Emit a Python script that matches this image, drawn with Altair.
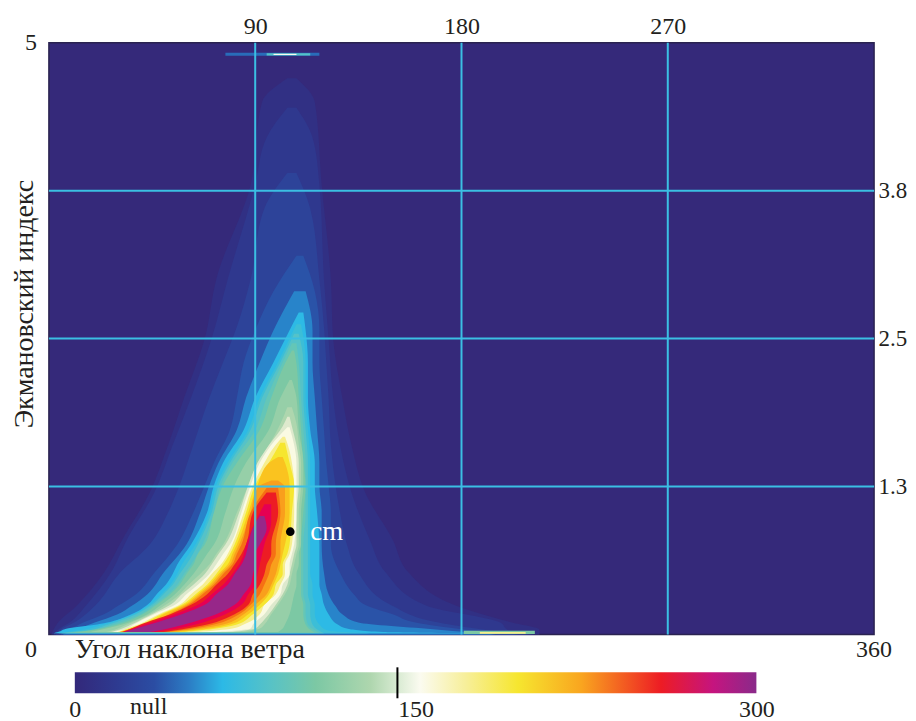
import altair as alt
import pandas as pd

W, H = 827, 593
FONT = "Liberation Serif"
INK = "#231f20"
BG = "#35297a"
GRID = "#3bbfe3"

# colour ramp
ramp_values = [0, 18, 35, 50, 65, 85, 106, 130, 152, 172, 195, 223, 258, 281, 300]
ramp_colors = ["#33287a", "#2e3a90", "#2b4da3", "#2c7cc4", "#2cb9e6", "#55c2c8", "#7cc8a4",
               "#aed6ae", "#fbfbf0", "#f7ef9a", "#f6e62f", "#f9a51f", "#ed1c24", "#c5147f", "#8a2a8a"]

# density bands: (value, index rows, left angle, right angle)
bands = [
    (8, [0, .04, .1, .24, .52, .8, 1.2, 1.6, 2.0, 2.5, 3.0, 3.8, 4.5, 4.7],
        [1, 2, 4, 12, 24, 32, 44, 52, 59, 68, 73, 88, 93, 104],
        [214, 214, 202, 178, 157, 150, 138, 132, 128, 124, 123, 119, 116, 108]),
    (16, [0, .04, .1, .24, .52, .8, 1.2, 1.6, 2.0, 2.5, 3.0, 3.8, 4.2, 4.45],
         [2, 4, 9, 16, 27, 34, 46, 54, 62, 71, 78, 90, 95, 104],
         [212, 200, 197, 165, 147, 140, 132, 127, 124, 122, 120, 118, 115, 108]),
    (26, [0, .04, .1, .24, .52, .76, 1.03, 1.26, 1.6, 2.0, 2.3, 2.6, 3.0, 3.6, 3.9],
         [3, 5, 11, 20, 31, 44, 52, 57, 63, 70, 76, 82, 88, 94, 104],
         [210, 190, 170, 150, 135, 130, 127, 125, 123, 122, 121, 120, 118, 114, 108]),
    (37, [0, .04, .1, .17, .24, .34, .52, .76, 1.03, 1.26, 1.45, 1.73, 2.0, 2.3, 2.57, 2.9, 3.2],
         [5, 9, 15, 24, 30, 38, 46, 56, 63, 68, 72, 79, 82, 85, 90, 98, 108],
         [205, 182, 160, 150, 139, 133, 127, 123, 123, 122, 121, 120, 119, 118, 118, 116, 111]),
    (52, [0, .04, .1, .17, .24, .34, .52, .76, 1.03, 1.26, 1.45, 1.73, 2.0, 2.3, 2.57, 2.9],
         [6, 12, 20, 30, 36, 43, 50, 60, 66, 70, 74, 82, 86, 92, 98, 107],
         [195, 170, 135, 128, 125, 122, 120, 119, 119, 118, 118, 117, 116, 115, 115, 112]),
    (66, [.01, .02, .05, .084, .17, .25, .34, .42, .51, .59, .76, 1.03, 1.26, 1.45, 1.73, 2.0, 2.3, 2.57, 2.72],
         [2, 4, 8, 21, 36, 43, 47, 51, 54, 56, 62, 69, 72, 76, 85, 90, 98, 105, 109],
         [182, 146, 130, 126, 122, 120, 119, 118, 118, 118, 118, 117, 116, 116, 114, 113, 113, 112, 111]),
    (75, [.01, .03, .084, .17, .25, .34, .42, .51, .59, .76, 1.03, 1.26, 1.45, 1.73, 2.0, 2.3, 2.62],
         [4, 12, 24, 37, 44, 49, 53, 56, 58, 64, 70, 73, 78, 87, 92, 100, 108],
         [140, 122, 118, 116, 116, 115, 115, 114, 114, 114, 114, 114, 114, 113, 112, 112, 110]),
    (85, [.01, .03, .084, .17, .25, .34, .42, .51, .59, .76, 1.03, 1.26, 1.45, 1.73, 2.0, 2.3, 2.54],
         [5, 15, 26, 38, 45, 50, 54, 57, 60, 65, 71, 74, 79, 88, 93, 101, 107],
         [120, 118, 115, 114, 114, 113, 113, 113, 113, 113, 113, 113, 113, 112, 111, 111, 109]),
    (95, [.012, .035, .084, .17, .25, .34, .42, .51, .59, .76, 1.03, 1.26, 1.45, 1.73, 2.0, 2.3, 2.46],
         [8, 18, 28, 40, 46, 52, 56, 59, 62, 67, 72, 75, 80, 90, 95, 102, 106],
         [118, 116, 113, 112, 112, 111, 111, 111, 111, 111, 112, 112, 112, 111, 110, 109, 108]),
    (106, [.015, .04, .084, .17, .25, .34, .42, .51, .59, .68, .76, 1.03, 1.26, 1.45, 1.73, 2.0, 2.29, 2.4],
          [11, 20, 30, 41, 47, 53, 57, 60, 63, 65, 68, 72, 76, 82, 92, 97, 103, 106],
          [116, 114, 112, 111, 111, 110, 110, 110, 110, 110, 110, 111, 112, 111, 110, 109, 108, 107]),
    (118, [.02, .05, .084, .17, .25, .34, .42, .51, .59, .68, .76, 1.03, 1.26, 1.45, 1.73, 2.0, 2.15],
          [18, 25, 32, 43, 49, 55, 59, 63, 66, 69, 72, 77, 81, 86, 96, 101, 105],
          [100, 102, 103, 105, 106, 107, 108, 108, 109, 109, 110, 110, 111, 111, 109, 108, 106]),
    (130, [.02, .05, .084, .17, .25, .34, .42, .51, .59, .68, .76, 1.03, 1.26, 1.45, 1.6, 1.78, 1.92],
          [25, 30, 34, 44, 51, 57, 61, 66, 70, 73, 76, 82, 87, 91, 96, 101, 104],
          [85, 92, 94, 97, 100, 103, 105, 106, 107, 108, 109, 109, 110, 110, 109, 108, 106]),
    (142, [.02, .05, .084, .17, .25, .34, .42, .51, .59, .68, .76, 1.03, 1.26, 1.45, 1.6, 1.76, 1.84],
          [27, 32, 36, 45, 53, 58, 63, 68, 71, 74, 77, 83, 87, 91, 96, 102, 104],
          [80, 90, 92, 96, 99, 102, 104, 105, 106, 107, 108, 108, 109, 109, 108, 106, 105]),
    (155, [.02, .05, .084, .17, .25, .34, .42, .51, .59, .68, .76, 1.03, 1.26, 1.45, 1.6, 1.75],
          [28, 34, 37, 46, 55, 60, 65, 70, 73, 76, 79, 84, 88, 92, 97, 104],
          [73, 88, 89, 94, 97, 101, 102, 105, 105, 106, 107, 108, 108, 108, 107, 105]),
    (175, [.02, .05, .084, .17, .25, .34, .42, .51, .59, .68, .76, 1.03, 1.26, 1.45, 1.55, 1.67],
          [30, 34, 39, 48, 57, 62, 67, 71, 75, 78, 80, 85, 89, 94, 97, 102],
          [65, 80, 85, 92, 94, 99, 101, 103, 103, 105, 106, 107, 107, 106, 105, 103]),
    (195, [.02, .05, .084, .17, .25, .34, .42, .51, .59, .68, .76, 1.03, 1.26, 1.45, 1.62],
          [31, 35, 40, 49, 58, 64, 69, 73, 76, 79, 81, 86, 90, 96, 101],
          [59, 73, 82, 89, 94, 98, 99, 102, 102, 104, 105, 106, 107, 105, 103]),
    (210, [.02, .05, .084, .17, .25, .34, .42, .51, .59, .68, .76, 1.03, 1.26, 1.45, 1.5],
          [31, 36, 42, 50, 59, 65, 70, 74, 78, 80, 82, 87, 91, 96, 100],
          [56, 70, 79, 87, 92, 96, 98, 100, 101, 102, 103, 105, 105, 103, 102]),
    (225, [.02, .05, .084, .17, .25, .34, .42, .51, .59, .68, .76, 1.03, 1.24, 1.3],
          [31, 37, 44, 52, 60, 66, 71, 75, 79, 81, 83, 88, 91, 97],
          [53, 66, 76, 85, 90, 95, 97, 99, 100, 101, 101, 103, 103, 100]),
    (240, [.02, .05, .084, .17, .25, .34, .42, .51, .59, .68, .76, 1.03, 1.24],
          [32, 36, 42, 53, 61, 67, 72, 76, 80, 82, 84, 88, 95],
          [51, 63, 72, 83, 88, 92, 94, 96, 97, 99, 99, 101, 100]),
    (258, [.02, .05, .084, .17, .25, .34, .42, .51, .59, .68, .76, 1.03, 1.2],
          [32, 36, 40, 53, 62, 69, 73, 78, 81, 84, 86, 89, 95],
          [50, 60, 69, 81, 87, 89, 92, 94, 95, 97, 97, 100, 99]),
    (268, [.02, .05, .084, .17, .25, .34, .42, .51, .59, .68, .76, .95, 1.1],
          [33, 37, 42, 55, 65, 71, 76, 80, 83, 85, 86, 90, 94],
          [46, 56, 64, 77, 84, 87, 90, 91, 92, 93, 94, 97, 97]),
    (296, [.02, .05, .084, .17, .25, .34, .42, .51, .59, .68, .76, .9, 1.0],
          [33, 38, 44, 58, 68, 73, 78, 81, 84, 86, 87, 89, 92],
          [44, 52, 59, 73, 81, 85, 88, 89, 90, 90, 92, 95, 94]),
    # thin streaks along the lower and upper edge of the panel
    (106, [.003, .03], [181, 181], [212, 212]),
    (175, [.006, .02], [188, 188], [208, 208]),
    (45, [4.89, 4.915], [77, 77], [118, 118]),
    (85, [4.893, 4.91], [95, 95], [114, 114]),
    (152, [4.896, 4.906], [98, 98], [108, 108]),
]

grid_angles = [90, 180, 270]
grid_index = [1.25, 2.5, 3.75]
teal_from, teal_to = 0.12, 1.22
cm_angle, cm_index = 105.3, 0.868
bar_tick = 142
bar_marks = [0, 150, 300]

rows = []
for level, (value, ys, lefts, rights) in enumerate(bands):
    for y, a, b in zip(ys, lefts, rights):
        rows.append({"level": level, "value": value, "index": y, "a": a, "b": b})
df = pd.DataFrame(rows)

x_scale = alt.Scale(domain=[0, 360], nice=False, zero=False)
y_scale = alt.Scale(domain=[0, 5], nice=False, zero=False)
color_scale = alt.Scale(domain=ramp_values, range=ramp_colors)

axis_text = dict(labelFont=FONT, labelFontSize=24, labelColor=INK, domain=False, ticks=False, grid=False, title=None)
right_text = dict(axis_text, labelFontSize=23)

density = alt.Chart(df).mark_area(orient="horizontal", interpolate="monotone").encode(
    y=alt.Y("index:Q", scale=y_scale,
            axis=alt.Axis(orient="right", values=grid_index, labelExpr="format(datum.value, '.1f')",
                          labelPadding=4, **right_text)),
    x=alt.X("a:Q", scale=x_scale,
            axis=alt.Axis(orient="top", values=grid_angles, labelPadding=4, **axis_text)),
    x2="b:Q",
    detail="level:N",
    color=alt.Color("value:Q", scale=color_scale, legend=None),
)

vlines = alt.Chart(pd.DataFrame({"a": grid_angles})).mark_rule(color=GRID, strokeWidth=2).encode(x=alt.X("a:Q", scale=x_scale))
hlines = alt.Chart(pd.DataFrame({"i": grid_index})).mark_rule(color=GRID, strokeWidth=2).encode(y=alt.Y("i:Q", scale=y_scale))
teal = alt.Chart(pd.DataFrame({"a": [90], "i": [teal_from], "j": [teal_to]})).mark_rule(color="#6fb7b5", strokeWidth=2).encode(
    x=alt.X("a:Q", scale=x_scale), y=alt.Y("i:Q", scale=y_scale), y2="j:Q")

dot = alt.Chart(pd.DataFrame({"a": [cm_angle], "i": [cm_index]})).mark_point(
    filled=True, color="black", size=75, opacity=1
).encode(x=alt.X("a:Q", scale=x_scale), y=alt.Y("i:Q", scale=y_scale))

def note(text, x, y, size=28, **kw):
    base = dict(font=FONT, fontSize=size, color=INK, baseline="middle")
    base.update(kw)
    return alt.Chart(pd.DataFrame({"t": [text]})).mark_text(**base).encode(x=x, y=y, text="t:N")

cm = note("cm", alt.X("a:Q", scale=x_scale), alt.Y("i:Q", scale=y_scale), color="white", align="left", dx=20, size=27).transform_calculate(a=str(cm_angle), i=str(cm_index))
five = note("5", alt.value(-18), alt.value(0), size=24)
zero = note("0", alt.value(-18), alt.value(H + 16), size=24)
end = note("360", alt.value(W), alt.value(H + 16), size=24)
xname = note("Угол наклона ветра", alt.value(26), alt.value(H + 16), align="left")
yname = note("Экмановский индекс", alt.value(-24), alt.value(262), angle=270, align="center")

main = alt.layer(density, vlines, hlines, teal, dot, cm, five, zero, end, xname, yname).properties(
    width=W, height=H, view=alt.ViewBackground(fill=BG, stroke="#2a2350", strokeWidth=1.5)
)

# colour bar
bx = alt.Scale(domain=[-11.4, 351.8], nice=False, zero=False)
stops = [alt.GradientStop(offset=v / 300, color=c) for v, c in zip(ramp_values, ramp_colors)]
by = alt.Scale(domain=[0, 1], nice=False, zero=False)
bar = alt.Chart(pd.DataFrame({"a": [0], "b": [300], "lo": [0], "hi": [1]})).mark_rect(
    color=alt.LinearGradient(gradient="linear", stops=stops, x1=0, x2=1, y1=0, y2=0)
).encode(
    x=alt.X("a:Q", scale=bx, axis=alt.Axis(values=bar_marks, labelPadding=4, **axis_text)),
    x2="b:Q",
    y=alt.Y("lo:Q", scale=by, axis=None),
    y2="hi:Q",
)
tick = alt.Chart(pd.DataFrame({"a": [bar_tick]})).mark_rule(color="black", strokeWidth=2).encode(
    x=alt.X("a:Q", scale=bx), y=alt.value(-5), y2=alt.value(26))
null = note("null", alt.value(100), alt.value(35), align="center", size=24)
colorbar = alt.layer(bar, tick, null).properties(width=W, height=21, view=alt.ViewBackground(stroke=None))

chart = alt.vconcat(main, colorbar, spacing=1).properties(
    padding={"left": 2, "top": 5, "right": 0, "bottom": 3}, background="white"
)
chart.save("out.html", embed_options={"renderer": "svg", "actions": False})
